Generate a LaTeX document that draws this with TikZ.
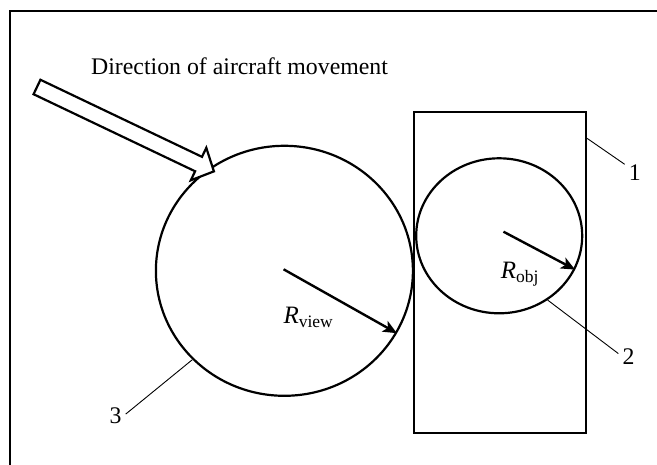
\documentclass[tikz,border=0pt]{standalone}
\usepackage{fontspec}
\setmainfont{Liberation Serif}
\usepackage{tikz}
\usetikzlibrary{arrows.meta,shapes.geometric}

\begin{document}
\begin{tikzpicture}[
x=1pt, y=-1pt,
font=\fontsize{23.8}{28}\selectfont,
edge/.style={line width=2.2pt},
zone/.style={draw, ellipse, line width=2.2pt, inner sep=0pt},
box/.style={draw, rectangle, line width=2.2pt, inner sep=0pt},
hollow/.style={draw, line width=2.2pt, line join=miter, fill=white},
radius/.style={-{Stealth[length=14pt, width=12pt, inset=3.5pt]}, line width=2.4pt},
leader/.style={line width=0.9pt},
num/.style={inner sep=4pt},
lbl/.style={inner sep=0pt, anchor=base west, font=\fontsize{25}{29}\selectfont}
]
\useasboundingbox (0,0) rectangle (657,465);
\draw[edge] (657,11) -- (10,11) -- (10,465);

% object zone and the circles
\node[box, minimum width=172pt, minimum height=321pt] (frame) at (500,272.5) {};
\node[zone, minimum width=166pt, minimum height=155pt] (obj) at (499.2,235.8) {};
\node[zone, minimum width=257pt, minimum height=250pt] (view) at (284.4,270.8) {};

% movement direction
\node[lbl, font=\fontsize{23.8}{28}\selectfont] (title) at (91,74.5) {Direction of aircraft movement};
\begin{scope}[shift={(37,87)}, rotate=-25.5]
\draw[hollow] (0,-8) -- (179,-8) -- (179,-18) -- (196,0) -- (179,18) -- (179,8) -- (0,8) -- cycle;
\end{scope}

% radii
\coordinate (vc) at (283.6,269.3);
\coordinate (oc) at (503.5,231.7);
\draw[radius] (vc) -- (view.-29);
\draw[radius] (oc) -- (obj.-24);
\node[lbl] (rview) at (283.3,323.3) {\textit{R}\textsubscript{view}};
\node[lbl] (robj) at (500.7,278.3) {\textit{R}\textsubscript{obj}};

% numbered callouts
\node[num] (n1) at (634.8,172.8) {1};
\node[num] (n2) at (628.5,356.5) {2};
\node[num] (n3) at (115.6,415.5) {3};
\draw[leader] (frame.57) -- (n1.140);
\draw[leader] (obj.-53) -- (n2.164);
\draw[leader] (view.224) -- (n3.8);
\end{tikzpicture}
\end{document}
